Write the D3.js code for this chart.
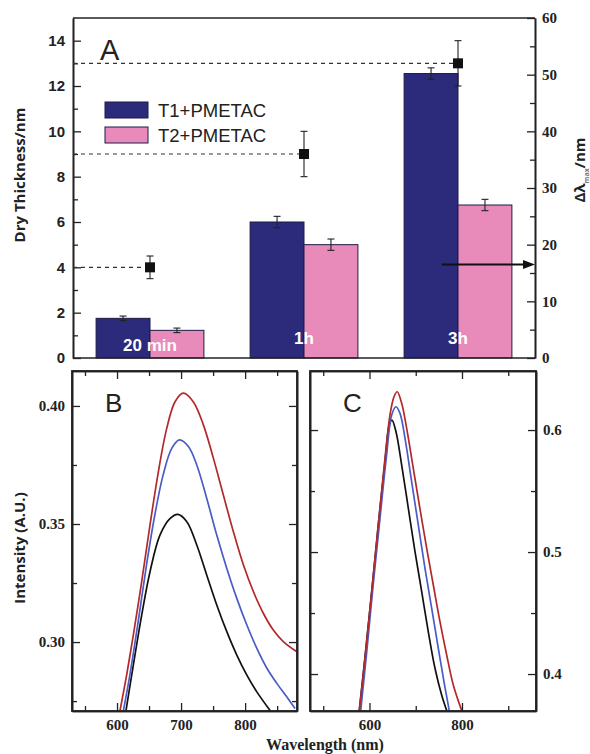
<!DOCTYPE html>
<html>
<head>
<meta charset="utf-8">
<script src="https://cdn.jsdelivr.net/npm/d3@7"></script>
<style>
body { margin: 0; background: #fff; }
svg { display: block; }
.axis path, .axis line { stroke: #222; }
</style>
</head>
<body>
<div id="chart"></div>
<script>
// panel A data
var groups = ["20 min", "1h", "3h"];
var seriesNames = ["T1+PMETAC", "T2+PMETAC"];
var t1Thick = [1.75, 6.0, 12.55];
var t1Err = [0.1, 0.25, 0.25];
var t2Thick = [1.22, 5.0, 6.75];
var t2Err = [0.1, 0.25, 0.25];
var shift = [16, 36, 52];
var shiftErr = [2, 4, 4];
var arrowLevel = 16.5;

var thickTicks = [0, 2, 4, 6, 8, 10, 12, 14];
var thickMinor = [1, 3, 5, 7, 9, 11, 13];
var shiftTicks = [0, 10, 20, 30, 40, 50, 60];
var shiftMinor = [5, 15, 25, 35, 45, 55];

// panel B spectra [wavelength, intensity]
var bBlack = [[614, 0.271], [625.5, 0.2903], [638.5, 0.3114], [651.5, 0.3298], [667, 0.3453], [683, 0.3524],
    [695, 0.3541], [709, 0.351], [724.5, 0.3411], [740, 0.3284], [755.7, 0.3157], [771.4, 0.3044],
    [787, 0.2945], [802.7, 0.286], [818.3, 0.2789], [839, 0.271]];
var bBlue = [[610, 0.271], [620, 0.286], [633, 0.3086], [646, 0.3326], [659, 0.3538], [672, 0.3708],
    [685.4, 0.382], [697.4, 0.3856], [711.4, 0.3828], [724.5, 0.375], [740, 0.3609], [755.7, 0.3453],
    [771.4, 0.3312], [787, 0.3185], [802.7, 0.3072], [818.3, 0.2973], [834, 0.2889], [849.5, 0.2825],
    [865, 0.2768], [878, 0.2719]];
var bRed = [[604.7, 0.271], [615, 0.286], [625.5, 0.303], [638.5, 0.3256], [651.5, 0.3496], [664.6, 0.3722],
    [677.6, 0.3905], [690.6, 0.4018], [703.6, 0.4054], [719, 0.4018], [734.8, 0.392], [750.5, 0.3778],
    [766, 0.3623], [781.7, 0.3467], [797.4, 0.3326], [813, 0.3213], [828.6, 0.3121], [844, 0.3051],
    [860, 0.3001], [881, 0.2959]];

// panel C spectra
var cBlack = [[578, 0.37], [590, 0.4129], [604.8, 0.4675], [619, 0.522], [633.5, 0.574], [642.8, 0.6041],
    [648.6, 0.6082], [657.3, 0.5986], [669.6, 0.5713], [684, 0.5358], [698.4, 0.5003], [712.9, 0.4675],
    [727.1, 0.4347], [741.6, 0.4047], [756, 0.3828], [767, 0.37]];
var cBlue = [[581, 0.37], [594, 0.418], [608, 0.473], [622.7, 0.5276], [637, 0.5795], [648, 0.6123],
    [657.3, 0.6191], [666, 0.6137], [676.8, 0.5932], [691.2, 0.5576], [705.6, 0.522], [720, 0.4866],
    [734.5, 0.4539], [748.8, 0.421], [761, 0.3937], [772.5, 0.37]];
var cRed = [[578, 0.37], [590.3, 0.4129], [604.8, 0.4675], [619, 0.522], [633.5, 0.5768], [644.3, 0.6123],
    [653, 0.6273], [660, 0.6314], [669.6, 0.6219], [680.4, 0.6014], [694.7, 0.5686], [709, 0.5358],
    [723.7, 0.503], [738, 0.473], [752.4, 0.4429], [766.9, 0.4156], [781.2, 0.391], [799.4, 0.37]];

var bTicksX = [600, 700, 800];
var bMinorX = [550, 650, 750, 850];
var bTicksY = [0.30, 0.35, 0.40];
var bMinorY = [0.275, 0.325, 0.375];
var cTicksX = [600, 800];
var cMinorX = [500, 700, 900];
var cTicksY = [0.4, 0.5, 0.6];
var cMinorY = [0.45, 0.55];

var navy = "#2c2b7b";
var pink = "#e88bbb";
var sans = "'Liberation Sans', Arial, sans-serif";
var serif = "'Liberation Serif', 'Times New Roman', serif";
var labelSans = "'Open Sans', sans-serif";

var svg = d3.select("#chart")
    .append("svg")
        .attr("width", 590)
        .attr("height", 754);

function addAxis(axis, tx, ty, font, size) {
    var g = svg.append("g")
            .attr("class", "axis")
            .attr("transform", "translate(" + tx + "," + ty + ")")
        .call(axis);
    g.select(".domain").attr("stroke-width", 1.6);
    g.selectAll(".tick line").attr("stroke-width", 1.3);
    g.selectAll("text")
        .style("font-family", font)
        .style("font-weight", "bold")
        .style("font-size", size + "px")
        .attr("fill", "#222");
    return g;
}

// PANEL A
var aLeft = 73, aRight = 535, aTop = 18, aBottom = 358;

var yThick = d3.scaleLinear().domain([0, 15]).range([aBottom, aTop]);
var yShift = d3.scaleLinear().domain([0, 60]).range([aBottom, aTop]);
var xGroup = d3.scaleBand()
    .domain(groups)
    .range([aLeft, aRight])
    .paddingInner(0.3)
    .paddingOuter(0.15);
var xSeries = d3.scaleBand().domain([0, 1]).range([0, xGroup.bandwidth()]);

var series = [
    {name: seriesNames[0], values: t1Thick, errs: t1Err, color: navy},
    {name: seriesNames[1], values: t2Thick, errs: t2Err, color: pink}
];

series.forEach(function (s, si) {
    svg.append("g").selectAll("rect")
        .data(groups)
        .enter().append("rect")
            .attr("x", function (g) { return xGroup(g) + xSeries(si); })
            .attr("y", function (g, i) { return yThick(s.values[i]); })
            .attr("width", xSeries.bandwidth())
            .attr("height", function (g, i) { return aBottom - yThick(s.values[i]); })
            .attr("fill", s.color)
            .attr("stroke", "#1d1c45")
            .attr("stroke-width", 1);
});

series.forEach(function (s, si) {
    var eg = svg.append("g").attr("stroke", "#222").attr("stroke-width", 1.1);
    groups.forEach(function (g, i) {
        var cx = xGroup(g) + xSeries(si) + xSeries.bandwidth() / 2;
        var y1 = yThick(s.values[i] + s.errs[i]);
        var y2 = yThick(s.values[i] - s.errs[i]);
        eg.append("line").attr("x1", cx).attr("x2", cx).attr("y1", y1).attr("y2", y2);
        eg.append("line").attr("x1", cx - 3.5).attr("x2", cx + 3.5).attr("y1", y1).attr("y2", y1);
        eg.append("line").attr("x1", cx - 3.5).attr("x2", cx + 3.5).attr("y1", y2).attr("y2", y2);
    });
});

// group names inside bars
svg.append("g").selectAll("text")
    .data(groups)
    .enter().append("text")
        .attr("x", function (g) { return xGroup(g) + xGroup.bandwidth() / 2; })
        .attr("y", function (g, i) { return aBottom - (i === 0 ? 7 : 14); })
        .attr("text-anchor", "middle")
        .style("font-family", sans)
        .style("font-weight", "bold")
        .style("font-size", "17px")
        .attr("fill", "#fff")
        .text(function (g) { return g; });

// axes frame
svg.append("line")
    .attr("x1", aLeft).attr("x2", aRight).attr("y1", aTop).attr("y2", aTop)
    .attr("stroke", "#222").attr("stroke-width", 1.6);
svg.append("line")
    .attr("x1", aLeft).attr("x2", aRight).attr("y1", aBottom).attr("y2", aBottom)
    .attr("stroke", "#222").attr("stroke-width", 1.6);

addAxis(d3.axisLeft(yThick).tickValues(thickTicks).tickSizeInner(-8).tickSizeOuter(0).tickPadding(8),
    aLeft, 0, sans, 15);
addAxis(d3.axisLeft(yThick).tickValues(thickMinor).tickSizeInner(-5).tickSizeOuter(0).tickFormat(""),
    aLeft, 0, sans, 15);
addAxis(d3.axisRight(yShift).tickValues(shiftTicks).tickSizeInner(-8).tickSizeOuter(0).tickPadding(7),
    aRight, 0, serif, 15);
addAxis(d3.axisRight(yShift).tickValues(shiftMinor).tickSizeInner(-5).tickSizeOuter(0).tickFormat(""),
    aRight, 0, serif, 15);

// dashed guides to the shift markers
var sg = svg.append("g");
groups.forEach(function (g, i) {
    var cx = xGroup(g) + xGroup.bandwidth() / 2;
    var cy = yShift(shift[i]);
    sg.append("line")
        .attr("x1", aLeft).attr("x2", cx - 5).attr("y1", cy).attr("y2", cy)
        .attr("stroke", "#333").attr("stroke-width", 1.2)
        .attr("stroke-dasharray", "4,4");
    var y1 = yShift(shift[i] + shiftErr[i]);
    var y2 = yShift(shift[i] - shiftErr[i]);
    sg.append("line").attr("x1", cx).attr("x2", cx).attr("y1", y1).attr("y2", y2)
        .attr("stroke", "#222").attr("stroke-width", 1.1);
    sg.append("line").attr("x1", cx - 3.5).attr("x2", cx + 3.5).attr("y1", y1).attr("y2", y1)
        .attr("stroke", "#222").attr("stroke-width", 1.1);
    sg.append("line").attr("x1", cx - 3.5).attr("x2", cx + 3.5).attr("y1", y2).attr("y2", y2)
        .attr("stroke", "#222").attr("stroke-width", 1.1);
    sg.append("rect")
        .attr("x", cx - 5).attr("y", cy - 5)
        .attr("width", 10).attr("height", 10)
        .attr("fill", "#111");
});

// arrow pointing to the right axis
var ay = yShift(arrowLevel);
var ax0 = xGroup("3h") + xGroup.bandwidth() * 0.35;
svg.append("line")
    .attr("x1", ax0).attr("x2", aRight - 9).attr("y1", ay).attr("y2", ay)
    .attr("stroke", "#111").attr("stroke-width", 2);
svg.append("path")
    .attr("d", "M" + (aRight - 12) + "," + (ay - 4.5) + "L" + aRight + "," + ay + "L" + (aRight - 12) + "," + (ay + 4.5) + "Z")
    .attr("fill", "#111");

// legend
series.forEach(function (s, si) {
    svg.append("rect")
        .attr("x", 105).attr("y", 102 + si * 25)
        .attr("width", 43).attr("height", 16)
        .attr("fill", s.color)
        .attr("stroke", "#1d1c45").attr("stroke-width", 1);
    svg.append("text")
        .attr("x", 158).attr("y", 117 + si * 25)
        .style("font-family", sans)
        .style("font-size", "18.5px")
        .attr("fill", "#222")
        .text(s.name);
});

svg.append("text")
    .attr("x", 100).attr("y", 60)
    .style("font-family", sans)
    .style("font-size", "29px")
    .attr("fill", "#222")
    .text("A");

svg.append("text")
    .attr("transform", "translate(20,175)rotate(-90)")
    .attr("text-anchor", "middle")
    .attr("dy", "0.35em")
    .style("font-family", labelSans)
    .style("font-weight", "bold")
    .style("font-size", "15px")
    .attr("fill", "#222")
    .text("Dry Thickness/nm");

var rl = svg.append("text")
    .attr("transform", "translate(580,170)rotate(-90)")
    .attr("text-anchor", "middle")
    .attr("dy", "0.35em")
    .style("font-family", labelSans)
    .style("font-weight", "bold")
    .style("font-size", "15px")
    .attr("fill", "#222");
rl.append("tspan").text("Δλ");
rl.append("tspan").attr("dy", "4").style("font-size", "7px").attr("fill", "#777").text("max");
rl.append("tspan").attr("dy", "-4").text("/nm");

// PANELS B AND C
var pTop = 371, pBottom = 711;

function spectrumPanel(left, right, xDomain, yDomain, id, curves, xt, xm, yt, ym, yFmt, labelRight, letter) {
    var x = d3.scaleLinear().domain(xDomain).range([left, right]);
    var y = d3.scaleLinear().domain(yDomain).range([pBottom, pTop]);

    svg.append("clipPath").attr("id", id)
        .append("rect")
            .attr("x", left).attr("y", pTop)
            .attr("width", right - left).attr("height", pBottom - pTop);

    var line = d3.line()
        .x(function (d) { return x(d[0]); })
        .y(function (d) { return y(d[1]); })
        .curve(d3.curveCatmullRom.alpha(0.5));

    curves.forEach(function (c) {
        svg.append("path")
            .datum(c.data)
            .attr("clip-path", "url(#" + id + ")")
            .attr("d", line)
            .attr("fill", "none")
            .attr("stroke", c.color)
            .attr("stroke-width", 1.7);
    });

    addAxis(d3.axisBottom(x).tickValues(xt).tickSizeInner(-8).tickSizeOuter(0).tickPadding(8), 0, pBottom, serif, 15);
    addAxis(d3.axisBottom(x).tickValues(xm).tickSizeInner(-5).tickSizeOuter(0).tickFormat(""), 0, pBottom, serif, 15);
    addAxis(d3.axisTop(x).tickValues(xt).tickSizeInner(-8).tickSizeOuter(0).tickFormat(""), 0, pTop, serif, 15);
    addAxis(d3.axisTop(x).tickValues(xm).tickSizeInner(-5).tickSizeOuter(0).tickFormat(""), 0, pTop, serif, 15);

    var major = labelRight ? d3.axisRight(y) : d3.axisLeft(y);
    var other = labelRight ? d3.axisLeft(y) : d3.axisRight(y);
    addAxis(major.tickValues(yt).tickSizeInner(-8).tickSizeOuter(0).tickPadding(7).tickFormat(d3.format(yFmt)),
        labelRight ? right : left, 0, serif, 15);
    addAxis((labelRight ? d3.axisRight(y) : d3.axisLeft(y)).tickValues(ym).tickSizeInner(-5).tickSizeOuter(0).tickFormat(""),
        labelRight ? right : left, 0, serif, 15);
    addAxis(other.tickValues(yt).tickSizeInner(-8).tickSizeOuter(0).tickFormat(""),
        labelRight ? left : right, 0, serif, 15);
    addAxis((labelRight ? d3.axisLeft(y) : d3.axisRight(y)).tickValues(ym).tickSizeInner(-5).tickSizeOuter(0).tickFormat(""),
        labelRight ? left : right, 0, serif, 15);

    svg.append("rect")
        .attr("x", left).attr("y", pTop)
        .attr("width", right - left).attr("height", pBottom - pTop)
        .attr("fill", "none")
        .attr("stroke", "#222")
        .attr("stroke-width", 1.8);

    svg.append("text")
        .attr("x", left + 33).attr("y", pTop + 41)
        .style("font-family", sans)
        .style("font-size", "26px")
        .attr("fill", "#222")
        .text(letter);
}

spectrumPanel(72, 297, [529.7, 881], [0.2708, 0.4148], "clipB",
    [{data: bBlack, color: "#111"}, {data: bBlue, color: "#4a5cc6"}, {data: bRed, color: "#b3282b"}],
    bTicksX, bMinorX, bTicksY, bMinorY, ".2f", false, "B");

spectrumPanel(310, 536, [471.4, 960], [0.3697, 0.6484], "clipC",
    [{data: cBlack, color: "#111"}, {data: cBlue, color: "#4a5cc6"}, {data: cRed, color: "#b3282b"}],
    cTicksX, cMinorX, cTicksY, cMinorY, ".1f", true, "C");

svg.append("text")
    .attr("transform", "translate(20,548)rotate(-90)")
    .attr("text-anchor", "middle")
    .attr("dy", "0.35em")
    .style("font-family", labelSans)
    .style("font-weight", "bold")
    .style("font-size", "15px")
    .attr("fill", "#222")
    .text("Intensity (A.U.)");

svg.append("text")
    .attr("x", 325).attr("y", 750)
    .attr("text-anchor", "middle")
    .style("font-family", serif)
    .style("font-weight", "bold")
    .style("font-size", "16px")
    .attr("fill", "#222")
    .text("Wavelength (nm)");
</script>
</body>
</html>
